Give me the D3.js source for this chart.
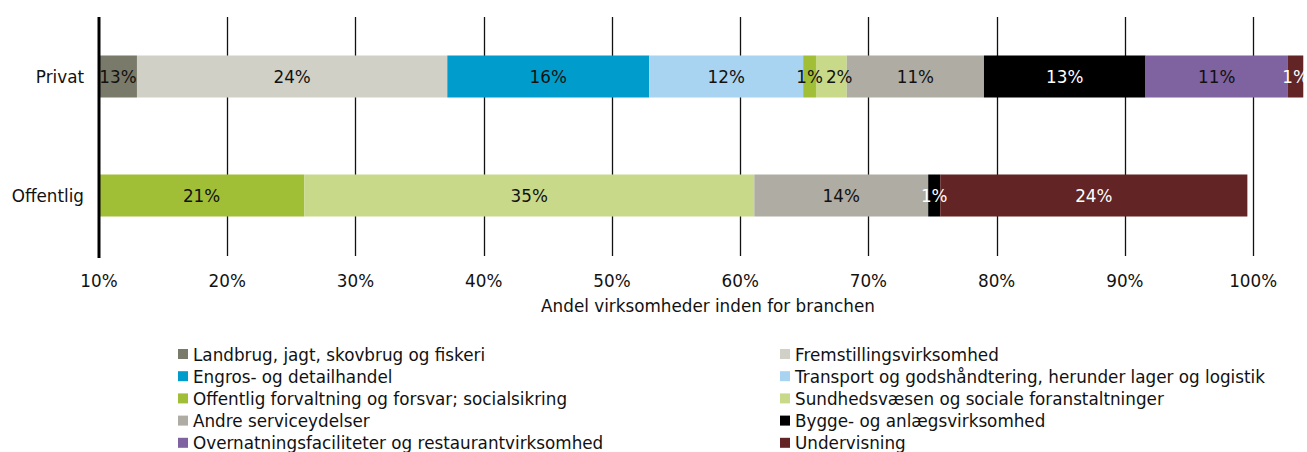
<!DOCTYPE html>
<html><head><meta charset="utf-8">
<script src="https://cdn.jsdelivr.net/npm/d3@7/dist/d3.min.js"></script>
<style>body{margin:0;background:#fff}svg{display:block;font-family:"DejaVu Sans",Verdana,sans-serif}</style>
</head><body><svg id="c" width="1307" height="452"></svg>
<script>
const categories = ["Privat", "Offentlig"];
const sectors = ["Landbrug, jagt, skovbrug og fiskeri","Fremstillingsvirksomhed","Engros- og detailhandel","Transport og godshåndtering, herunder lager og logistik","Offentlig forvaltning og forsvar; socialsikring","Sundhedsvæsen og sociale foranstaltninger","Andre serviceydelser","Bygge- og anlægsvirksomhed","Overnatningsfaciliteter og restaurantvirksomhed","Undervisning"];
const colors = ["#7a7a6a","#d0d0c7","#009dcc","#a8d4f2","#a0bf37","#c8d98a","#afaca3","#000000","#7f62a0","#622424"];
const labelColors = ["#111","#111","#111","#111","#111","#111","#111","#fff","#111","#fff"];
const privatValues = [12.96, 24.2, 15.75, 12.0, 1.0, 2.4, 10.7, 12.6, 11.1, 1.2];
const offentligValues = [0.3, 2.0, 1.4, 1.3, 21.0, 35.1, 13.56, 0.94, 0, 23.95];
const tickValues = [10,20,30,40,50,60,70,80,90,100];
const axisTitle = "Andel virksomheder inden for branchen";

const FS = 16.8;
const svg = d3.select("#c");
const x = d3.scaleLinear().domain([10, 104.2]).range([99, 1307]);
const y = d3.scaleBand().domain(categories).range([17, 255]).paddingInner(0.647).paddingOuter(0.3235);
const seriesByCat = {Privat: privatValues, Offentlig: offentligValues};

// gridlines
svg.append("g").selectAll("line").data(tickValues.slice(1)).join("line")
  .attr("x1", d => Math.round(x(d)) + 0.5).attr("x2", d => Math.round(x(d)) + 0.5)
  .attr("y1", 17).attr("y2", 256).attr("stroke", "#111").attr("stroke-width", 1.3);

// bars
const gBars = svg.append("g");
const gLabels = svg.append("g");
categories.forEach(cat => {
  let cum = 0;
  let prevRight = -Infinity;
  seriesByCat[cat].forEach((v, i) => {
    const s = cum, e = cum + v; cum = e;
    if (v <= 0 || e <= 10) return;
    const vs = Math.max(s, 10);
    gBars.append("rect").attr("x", x(vs)).attr("width", x(e) - x(vs))
      .attr("y", y(cat)).attr("height", y.bandwidth()).attr("fill", colors[i]);
    const t = gLabels.append("text").attr("x", (x(vs) + x(e)) / 2).attr("y", y(cat) + y.bandwidth() / 2 + 6)
      .attr("text-anchor", "middle").attr("font-size", FS).attr("fill", labelColors[i])
      .text(d3.format(".0f")(v) + "%");
    const bb = t.node().getBBox();
    if (bb.x < prevRight + 3) {
      const shift = prevRight + 3 - bb.x;
      t.attr("x", (x(vs) + x(e)) / 2 + shift);
      prevRight = bb.x + bb.width + shift;
    } else prevRight = bb.x + bb.width;
  });
});

// y axis line
svg.append("line").attr("x1", 99).attr("x2", 99).attr("y1", 17).attr("y2", 258)
  .attr("stroke", "#000").attr("stroke-width", 3);

// category labels
svg.append("g").selectAll("text").data(categories).join("text")
  .attr("x", 84).attr("y", d => y(d) + y.bandwidth() / 2 + 6).attr("text-anchor", "end")
  .attr("font-size", FS).attr("fill", "#111").text(d => d);

// tick labels
svg.append("g").selectAll("text").data(tickValues).join("text")
  .attr("x", d => x(d)).attr("y", 287).attr("text-anchor", "middle")
  .attr("font-size", FS).attr("fill", "#111").text(d => d + "%");

svg.append("text").attr("x", 708).attr("y", 312).attr("text-anchor", "middle")
  .attr("font-size", FS).attr("fill", "#111").text(axisTitle);

// legend
const lg = svg.append("g");
sectors.forEach((s, i) => {
  const col = i % 2, row = Math.floor(i / 2);
  const lx = col === 0 ? 178 : 780, ly = 354 + row * 22.2;
  lg.append("rect").attr("x", lx).attr("y", ly - 5).attr("width", 10).attr("height", 10).attr("fill", colors[i]);
  lg.append("text").attr("x", lx + 15).attr("y", ly + 6.5).attr("font-size", FS).attr("fill", "#111").text(s);
});
</script></body></html>
